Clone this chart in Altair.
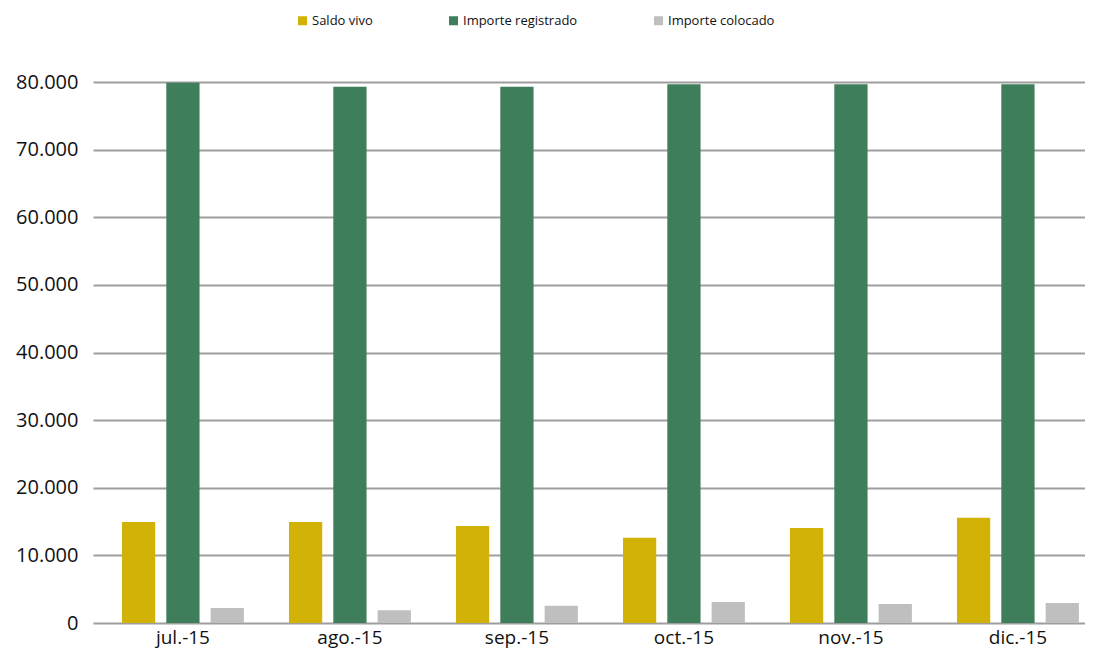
import altair as alt
import pandas as pd

months = ["jul.-15", "ago.-15", "sep.-15", "oct.-15", "nov.-15", "dic.-15"]
series = ["Saldo vivo", "Importe registrado", "Importe colocado"]
colors = ["#D3B207", "#3E7E5A", "#BFBFBF"]

saldo_vivo = [14950, 14950, 14350, 12600, 14050, 15550]
importe_registrado = [79900, 79300, 79300, 79650, 79650, 79650]
importe_colocado = [2200, 1900, 2550, 3100, 2800, 2950]

y_ticks = [0, 10000, 20000, 30000, 40000, 50000, 60000, 70000, 80000]

rows = []
for i, m in enumerate(months):
    for s, vals in zip(series, [saldo_vivo, importe_registrado, importe_colocado]):
        rows.append({"mes": m, "serie": s, "valor": vals[i]})
df = pd.DataFrame(rows)

FONT = "Open Sans"

chart = (
    alt.Chart(df)
    .mark_bar()
    .encode(
        x=alt.X(
            "mes:N",
            sort=months,
            scale=alt.Scale(paddingInner=0.27, paddingOuter=0.105, align=0.826),
            axis=alt.Axis(
                title=None, labelAngle=0, labelFontSize=19, labelPadding=5,
                ticks=False, domain=False, labelColor="#111111", labelFont=FONT,
            ),
        ),
        xOffset=alt.XOffset(
            "serie:N", sort=series, scale=alt.Scale(paddingInner=0.25, paddingOuter=0)
        ),
        y=alt.Y(
            "valor:Q",
            scale=alt.Scale(domain=[0, 80000], nice=False),
            axis=alt.Axis(
                values=y_ticks, title=None,
                labelExpr="replace(format(datum.value, ','), ',', '.')",
                gridColor="#9E9E9E", gridWidth=2, domain=False, ticks=False,
                labelFontSize=20, labelPadding=15, labelColor="#111111", labelFont=FONT,
            ),
        ),
        color=alt.Color(
            "serie:N",
            sort=series,
            scale=alt.Scale(domain=series, range=colors),
            legend=alt.Legend(
                title=None, orient="none", legendX=203, legendY=-68,
                direction="horizontal", symbolType="square", symbolSize=81,
                symbolStrokeWidth=0, labelFontSize=13, labelFont=FONT,
                labelColor="#111111", columnPadding=74, labelOffset=3,
            ),
        ),
    )
    .properties(
        width=992,
        height=541,
        autosize=alt.AutoSizeParams(type="none"),
        padding={"left": 85, "top": 74, "right": 0, "bottom": 26},
    )
    .configure_view(stroke=None)
)

chart.save("out.html", embed_options={"renderer": "svg", "actions": False})
